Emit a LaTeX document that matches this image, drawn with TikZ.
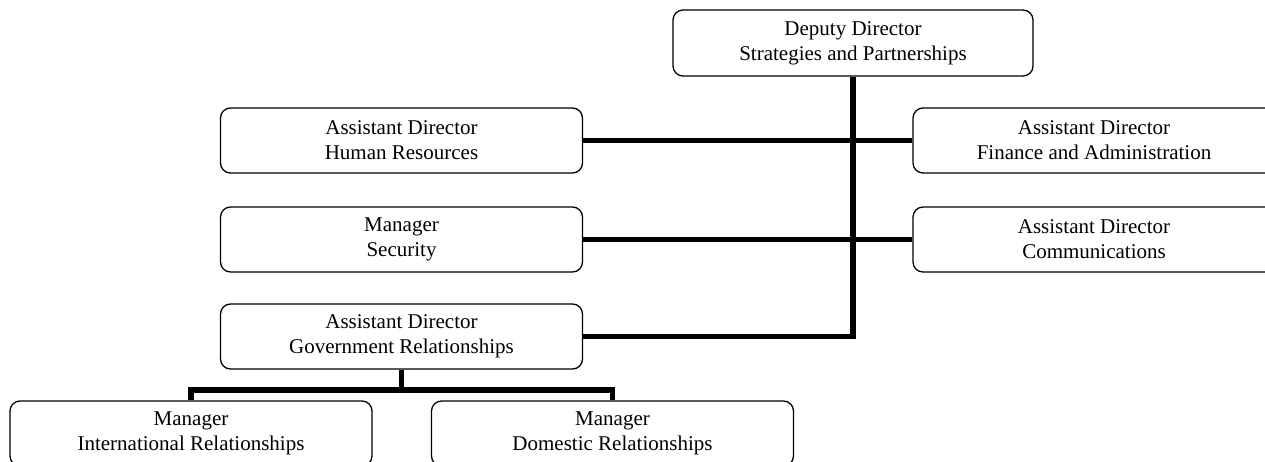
\documentclass[tikz,border=0pt]{standalone}
\usepackage{fontspec}
\setmainfont{Liberation Serif}
\begin{document}
\begin{tikzpicture}[x=1pt,y=-1pt,
  post/.style={draw=black, line width=1.3pt, rounded corners=10pt, fill=white,
    minimum width=362pt, minimum height=65pt, inner sep=0pt, align=center,
    font=\fontsize{21}{25}\selectfont},
  link/.style={draw=black, line width=5.5pt, line join=miter}]
  \useasboundingbox (0,0) rectangle (1265,461);
  \clip (0,0) rectangle (1265,461);
  % positions
  \node[post, minimum width=360pt, minimum height=66pt] (dep) at (853,43) {Deputy Director\\Strategies and Partnerships};
  \node[post] (hr)  at (401.5,140.5) {Assistant Director\\Human Resources};
  \node[post] (fin) at (1094,140.5) {Assistant Director\\Finance and Administration};
  \node[post] (sec) at (401.5,239.5) {Manager\\Security};
  \node[post] (com) at (1094,239.5) {Assistant Director\\Communications};
  \node[post] (gov) at (401.5,336.5) {Assistant Director\\Government Relationships};
  \node[post] (int) at (191,433.5) {Manager\\International Relationships};
  \node[post] (dom) at (612.5,433.5) {Manager\\Domestic Relationships};
  \coordinate (bar) at (0,390);
  % reporting lines
  \draw[link] (dep.south) |- (gov.east);
  \draw[link] (hr.east) -- (fin.west);
  \draw[link] (sec.east) -- (com.west);
  \draw[link] (gov.south) -- (gov.south |- bar);
  \draw[link] (int.north) -- (int.north |- bar) -- (dom.north |- bar) -- (dom.north);
\end{tikzpicture}
\end{document}
